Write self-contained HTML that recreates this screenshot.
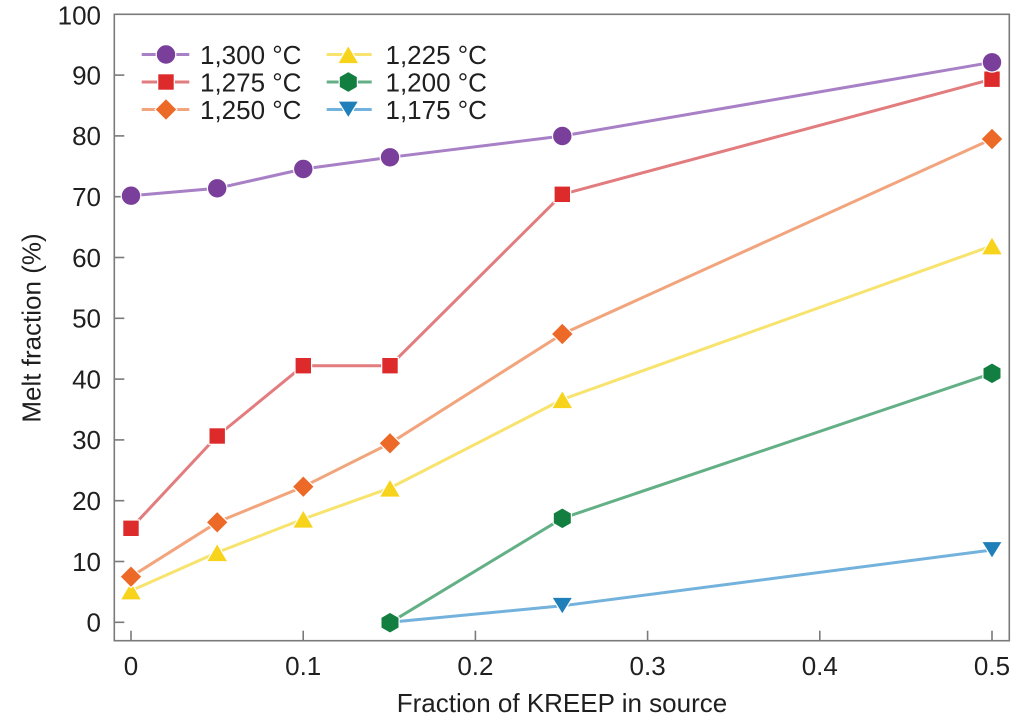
<!DOCTYPE html>
<html>
<head>
<meta charset="utf-8">
<style>
  html, body { margin: 0; padding: 0; background: #ffffff; }
  svg { display: block; }
  text { font-family: "Liberation Sans", Arial, sans-serif; fill: #1f1f1f; }
</style>
</head>
<body>
<svg width="1024" height="723" viewBox="0 0 1024 723" xmlns="http://www.w3.org/2000/svg">
  <rect x="0" y="0" width="1024" height="723" fill="#ffffff"/>

  <!-- frame -->
  <rect x="114.3" y="14.3" width="895" height="626.4" fill="none" stroke="#7a7a7a" stroke-width="1.6"/>

  <!-- y ticks -->
  <g stroke="#7a7a7a" stroke-width="1.6">
    <line x1="114.3" y1="622.3" x2="124.3" y2="622.3"/>
    <line x1="114.3" y1="561.5" x2="124.3" y2="561.5"/>
    <line x1="114.3" y1="500.7" x2="124.3" y2="500.7"/>
    <line x1="114.3" y1="439.9" x2="124.3" y2="439.9"/>
    <line x1="114.3" y1="379.1" x2="124.3" y2="379.1"/>
    <line x1="114.3" y1="318.3" x2="124.3" y2="318.3"/>
    <line x1="114.3" y1="257.5" x2="124.3" y2="257.5"/>
    <line x1="114.3" y1="196.7" x2="124.3" y2="196.7"/>
    <line x1="114.3" y1="135.9" x2="124.3" y2="135.9"/>
    <line x1="114.3" y1="75.1" x2="124.3" y2="75.1"/>
    <!-- x ticks -->
    <line x1="131" y1="640.7" x2="131" y2="630.7"/>
    <line x1="303.2" y1="640.7" x2="303.2" y2="630.7"/>
    <line x1="475.4" y1="640.7" x2="475.4" y2="630.7"/>
    <line x1="647.6" y1="640.7" x2="647.6" y2="630.7"/>
    <line x1="819.8" y1="640.7" x2="819.8" y2="630.7"/>
    <line x1="992" y1="640.7" x2="992" y2="630.7"/>
  </g>

  <!-- y tick labels -->
  <g font-size="26" text-anchor="end">
    <text x="101" y="631.6">0</text>
    <text x="101" y="570.8">10</text>
    <text x="101" y="510">20</text>
    <text x="101" y="449.2">30</text>
    <text x="101" y="388.4">40</text>
    <text x="101" y="327.6">50</text>
    <text x="101" y="266.8">60</text>
    <text x="101" y="206">70</text>
    <text x="101" y="145.2">80</text>
    <text x="101" y="84.4">90</text>
    <text x="101" y="24.5">100</text>
  </g>

  <!-- x tick labels -->
  <g font-size="26" text-anchor="middle">
    <text x="131" y="675">0</text>
    <text x="303.2" y="675">0.1</text>
    <text x="475.4" y="675">0.2</text>
    <text x="647.6" y="675">0.3</text>
    <text x="819.8" y="675">0.4</text>
    <text x="992" y="675">0.5</text>
  </g>

  <!-- axis titles -->
  <text x="562" y="712" font-size="26" text-anchor="middle">Fraction of KREEP in source</text>
  <text x="0" y="0" font-size="26" text-anchor="middle" transform="translate(40.6,328) rotate(-90)">Melt fraction (%)</text>

  <!-- series lines -->
  <g fill="none" stroke-width="3" stroke-linejoin="round" stroke-linecap="round">
    <polyline stroke="#73b2dc" points="390,622.3 562.3,605.8 992,550"/>
    <polyline stroke="#63b086" points="390,622.7 562.3,518.3 992,373.3"/>
    <polyline stroke="#f7e36e" points="131,590.8 217.2,552.5 303.3,519 390,488 562.3,399.5 992,245.8"/>
    <polyline stroke="#f2a47c" points="131,576.7 217.2,522.3 303.3,486.7 390,443.3 562.3,334 992,139"/>
    <polyline stroke="#e27c7e" points="131,528.3 217.2,436 303.3,365.7 390,365.7 562.3,194.3 992,79.2"/>
    <polyline stroke="#a880c6" points="131,195.7 217.2,188.3 303.3,169 390,157.3 562.3,136 992,62.3"/>
  </g>

  <defs>
    <polygon id="tdown" points="-10.5,-8.5 10.5,-8.5 0,8.5"/>
    <polygon id="tup" points="0,-9.2 -10.7,9.2 10.7,9.2"/>
    <polygon id="hex" points="0,-10.5 9.1,-5.25 9.1,5.25 0,10.5 -9.1,5.25 -9.1,-5.25"/>
    <polygon id="dia" points="0,-11 11,0 0,11 -11,0"/>
    <rect id="sq" x="-8.3" y="-8.3" width="16.6" height="16.6"/>
    <circle id="circ" cx="0" cy="0" r="9.8"/>
  </defs>

  <!-- markers -->
  <g stroke="#ffffff" stroke-width="1.2">
    <!-- blue 1175 -->
    <g fill="#1f7fb9">
      <use href="#tdown" x="562.3" y="605.8"/>
      <use href="#tdown" x="992" y="550"/>
    </g>
    <!-- green 1200 -->
    <g fill="#127f40">
      <use href="#hex" x="390" y="622.7"/>
      <use href="#hex" x="562.3" y="518.3"/>
      <use href="#hex" x="992" y="373.3"/>
    </g>
    <!-- yellow 1225 -->
    <g fill="#f8d31c">
      <use href="#tup" x="131" y="590.8"/>
      <use href="#tup" x="217.2" y="552.5"/>
      <use href="#tup" x="303.3" y="519"/>
      <use href="#tup" x="390" y="488"/>
      <use href="#tup" x="562.3" y="399.5"/>
      <use href="#tup" x="992" y="245.8"/>
    </g>
    <!-- orange 1250 -->
    <g fill="#ec6928">
      <use href="#dia" x="131" y="576.7"/>
      <use href="#dia" x="217.2" y="522.3"/>
      <use href="#dia" x="303.3" y="486.7"/>
      <use href="#dia" x="390" y="443.3"/>
      <use href="#dia" x="562.3" y="334"/>
      <use href="#dia" x="992" y="139"/>
    </g>
    <!-- red 1275 -->
    <g fill="#dd2a2a">
      <use href="#sq" x="131" y="528.3"/>
      <use href="#sq" x="217.2" y="436"/>
      <use href="#sq" x="303.3" y="365.7"/>
      <use href="#sq" x="390" y="365.7"/>
      <use href="#sq" x="562.3" y="194.3"/>
      <use href="#sq" x="992" y="79.2"/>
    </g>
    <!-- purple 1300 -->
    <g fill="#7a3e9b">
      <use href="#circ" x="131" y="195.7"/>
      <use href="#circ" x="217.2" y="188.3"/>
      <use href="#circ" x="303.3" y="169"/>
      <use href="#circ" x="390" y="157.3"/>
      <use href="#circ" x="562.3" y="136"/>
      <use href="#circ" x="992" y="62.3"/>
    </g>
  </g>

  <!-- legend -->
  <g stroke-width="3" fill="none">
    <line x1="141.7" y1="54.5" x2="189.3" y2="54.5" stroke="#a880c6"/>
    <line x1="141.7" y1="82" x2="189.3" y2="82" stroke="#e27c7e"/>
    <line x1="141.7" y1="109.5" x2="189.3" y2="109.5" stroke="#f2a47c"/>
    <line x1="326.7" y1="54.5" x2="371.7" y2="54.5" stroke="#f7e36e"/>
    <line x1="326.7" y1="82" x2="371.7" y2="82" stroke="#63b086"/>
    <line x1="326.7" y1="109.5" x2="371.7" y2="109.5" stroke="#73b2dc"/>
  </g>
  <g stroke="#ffffff" stroke-width="1.2">
    <use href="#circ" x="166" y="54.5" fill="#7a3e9b"/>
    <use href="#sq" x="166" y="82" fill="#dd2a2a"/>
    <use href="#dia" x="166" y="109.5" fill="#ec6928"/>
    <use href="#tup" x="348.3" y="54.5" fill="#f8d31c"/>
    <use href="#hex" x="348.3" y="82" fill="#127f40"/>
    <use href="#tdown" x="348.3" y="109.5" fill="#1f7fb9"/>
  </g>
  <g font-size="26">
    <text x="200" y="63.8">1,300 °C</text>
    <text x="200" y="91.3">1,275 °C</text>
    <text x="200" y="118.8">1,250 °C</text>
    <text x="385.5" y="63.8">1,225 °C</text>
    <text x="385.5" y="91.3">1,200 °C</text>
    <text x="385.5" y="118.8">1,175 °C</text>
  </g>
</svg>
</body>
</html>
